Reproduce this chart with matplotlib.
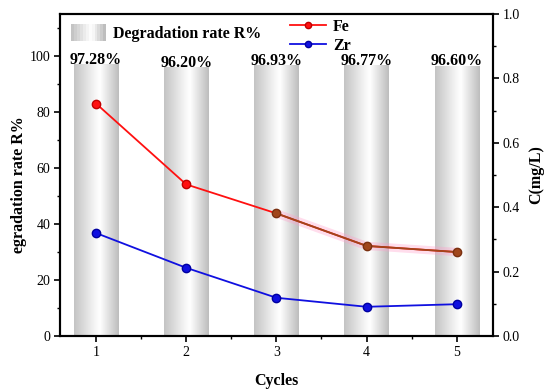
import matplotlib
matplotlib.use('Agg')
import matplotlib.pyplot as plt
import numpy as np
from matplotlib.colors import LinearSegmentedColormap
from matplotlib.patches import Rectangle
from matplotlib.legend_handler import HandlerTuple

# data
cycles = [1, 2, 3, 4, 5]
rate = [97.28, 96.20, 96.93, 96.77, 96.60]
rate_labels = ['97.28%', '96.20%', '96.93%', '96.77%', '96.60%']
fe = [0.722, 0.471, 0.381, 0.280, 0.261]
zr = [0.320, 0.212, 0.119, 0.091, 0.099]

plt.rcParams['font.family'] = ['Liberation Serif', 'DejaVu Serif']
plt.rcParams['font.size'] = 10

fig = plt.figure(figsize=(5.5, 3.89), dpi=100)
ax1 = fig.add_axes([0.109, 0.136, 0.787, 0.828])

# gradient bars
cmap = LinearSegmentedColormap.from_list(
    'bar', [(0, '#c4c4c4'), (0.45, '#f4f4f4'), (0.58, '#ffffff'), (1, '#bebebe')])
grad = np.linspace(0, 1, 64).reshape(1, -1)
bw = 0.49
bars = ax1.bar(cycles, rate, width=bw, color='none', edgecolor='none', zorder=1)
for b in bars:
    x0, w, h = b.get_x(), b.get_width(), b.get_height()
    im = ax1.imshow(grad, cmap=cmap, aspect='auto', extent=[x0, x0 + w, 0, h],
                    zorder=1, interpolation='bilinear')
    im.set_clip_path(b)

for x, r, lab in zip(cycles, rate, rate_labels):
    ax1.text(x, r - 1.4, lab, ha='center', va='bottom', fontsize=11.5,
             fontweight='bold')

ax1.set_xlim(0.6, 5.4)
ax1.set_ylim(0, 115)
ax1.set_xticks(cycles)
ax1.set_xticks([1.5, 2.5, 3.5, 4.5], minor=True)
ax1.set_yticks([0, 20, 40, 60, 80, 100])
ax1.set_yticks(np.arange(10, 111, 20), minor=True)
ax1.set_xlabel('Cycles', fontsize=11.5, fontweight='bold', labelpad=10)
ax1.set_ylabel('egradation rate R%', fontsize=11.5, fontweight='bold')
ax1.yaxis.set_label_coords(-0.076, 0.47)
ax1.tick_params(direction='out', length=4, width=1.2, labelsize=10, pad=3)
ax1.tick_params(which='minor', direction='out', length=2.5, width=1.0)
for s in ax1.spines.values():
    s.set_linewidth(1.5)

# concentration lines
ax2 = ax1.twinx()
ax2.set_ylim(0, 1.0)
ax2.set_yticks([0.0, 0.2, 0.4, 0.6, 0.8, 1.0])
ax2.set_yticks(np.arange(0.1, 1.0, 0.2), minor=True)
ax2.yaxis.set_major_formatter(matplotlib.ticker.FormatStrFormatter('%.1f'))
ax2.tick_params(direction='out', length=4, width=1.2, labelsize=10, pad=3)
ax2.tick_params(which='minor', direction='out', length=2.5, width=1.0)
ax2.set_ylabel('C(mg/L)', fontsize=11.5, fontweight='bold', labelpad=6)
for s in ax2.spines.values():
    s.set_linewidth(1.5)

brown = '#a0461c'
ax2.plot(cycles[2:], fe[2:], color='#ff9ecb', lw=6, alpha=0.35, zorder=2,
         solid_capstyle='butt')
ax2.plot(cycles, fe, color='#ff1010', lw=1.3, zorder=3)
ax2.plot(cycles[2:], fe[2:], color=brown, lw=1.3, zorder=4)
ax2.plot(cycles[:2], fe[:2], 'o', color='#ff1010', mec='#c00000', ms=6, zorder=5)
ax2.plot(cycles[2:], fe[2:], 'o', color=brown, mec='#7a3010', ms=6, zorder=5)
ax2.plot(cycles, zr, '-o', color='#1010e0', mec='#0000a0', lw=1.3, ms=6, zorder=5)

fe_h, = ax2.plot([], [], '-o', color='#ff1010', mec='#c00000', lw=1.3, ms=4.5)
zr_h, = ax2.plot([], [], '-o', color='#1010e0', mec='#0000a0', lw=1.3, ms=4.5)
ax2.legend([fe_h, zr_h], ['Fe', 'Zr'], loc='upper left',
           bbox_to_anchor=(0.505, 1.02), frameon=False, handlelength=2.3,
           labelspacing=0.18, handletextpad=0.4, borderaxespad=0.3,
           prop={'weight': 'bold', 'size': 11.5})

shades = [cmap(t) for t in np.linspace(0, 1, 12)]
grad_h = tuple(Rectangle((0, 0), 1, 1, fc=c, ec='none') for c in shades)
ax1.legend([grad_h], ['Degradation rate R%'], loc='upper left',
           handler_map={tuple: HandlerTuple(ndivide=None, pad=0)},
           frameon=False, handlelength=2.2, handleheight=1.2,
           handletextpad=0.4, borderaxespad=0.3,
           bbox_to_anchor=(0.0, 1.003), prop={'weight': 'bold', 'size': 11.5})

fig.savefig('out.png', dpi=100)
